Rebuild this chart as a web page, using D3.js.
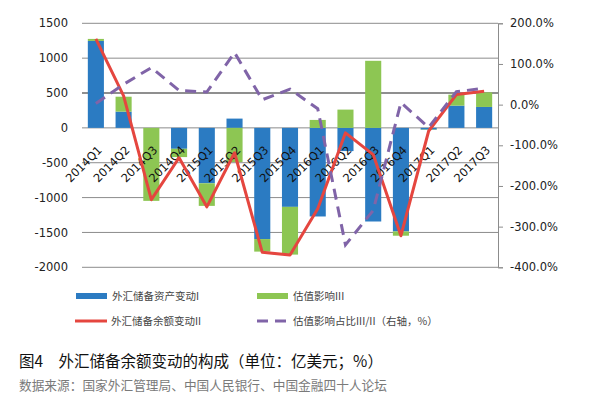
<!DOCTYPE html>
<html>
<head>
<meta charset="utf-8">
<script src="https://cdn.jsdelivr.net/npm/d3@7"></script>
<style>
  body { margin: 0; background: #fff; }
  svg { display: block; }
</style>
</head>
<body>
<script>
const W = 616, H = 397;

// Data (亿美元 / %)
const quarters = ["2014Q1","2014Q2","2014Q3","2014Q4","2015Q1","2015Q2","2015Q3","2015Q4",
                  "2016Q1","2016Q2","2016Q3","2016Q4","2017Q1","2017Q2","2017Q3"];
const assetChange   = [1247, 233, 0, -300, -795, 133, -1595, -1133, -1271, -333, -1343, -1485, -25, 319, 300];   // I
const valuation     = [29, 214, -1047, -119, -324, -490, -180, -685, 114, 262, 962, -62, -5, 157, 209];           // III
const balanceChange = [1276, 460, -1030, -428, -1133, -357, -1785, -1825, -1160, -71, -383, -1547, -45, 478, 525]; // II
const valuationShare = [3, 50, 91, 35, 31, 128, 12, 38, -10, -345, -260, 5, -56, 32, 40];                          // III/II, %

const leftTicks = [-2000, -1500, -1000, -500, 0, 500, 1000, 1500];
const rightTicks = [-400, -300, -200, -100, 0, 100, 200];

const legendItems = [
  { label: "外汇储备资产变动I", color: "#2B7BC2", type: "rect" },
  { label: "估值影响III", color: "#8DC653", type: "rect" },
  { label: "外汇储备余额变动II", color: "#E5463F", type: "line" },
  { label: "估值影响占比III/II（右轴，%）", color: "#8064A8", type: "dash" }
];

const svg = d3.select("body").append("svg").attr("width", W).attr("height", H);

const plotL = 82, plotR = 498, plotT = 23.3, plotB = 267.3;

const x = d3.scaleBand().domain(quarters).range([plotL, plotR]).paddingInner(0.42).paddingOuter(0.21);
const y = d3.scaleLinear().domain([-2000, 1500]).range([plotB, plotT]);
const y2 = d3.scaleLinear().domain([-400, 200]).range([plotB, plotT]);

// Gridlines
svg.append("g").selectAll("line").data(leftTicks).enter().append("line")
  .attr("x1", plotL).attr("x2", plotR)
  .attr("y1", d => y(d)).attr("y2", d => y(d))
  .attr("stroke", d => d === 500 ? "#6a6a6a" : "#8c8c8c")
  .attr("stroke-width", d => d === 500 ? 1.6 : 1);

// Left axis labels
const leftAxis = d3.axisLeft(y).tickValues(leftTicks).tickSize(0).tickPadding(14).tickFormat(d => String(d));
const gl = svg.append("g").attr("transform", `translate(${plotL},0)`).call(leftAxis);
gl.select(".domain").remove();
gl.selectAll("text").attr("font-family", "DejaVu Sans").attr("font-size", 11.5).attr("fill", "#222");

// Right axis
const rightAxis = d3.axisRight(y2).tickValues(rightTicks).tickSize(5).tickPadding(7)
  .tickFormat(d => d.toFixed(1) + "%");
const gr = svg.append("g").attr("transform", `translate(${plotR},0)`).call(rightAxis);
gr.select(".domain").attr("stroke", "#8c8c8c");
gr.selectAll(".tick line").attr("stroke", "#8c8c8c");
gr.selectAll("text").attr("font-family", "DejaVu Sans").attr("font-size", 11.5).attr("fill", "#222");

// Stacked bars (diverging)
const rows = quarters.map((q, i) => ({ q, a: assetChange[i], v: valuation[i] }));
const stacked = d3.stack().keys(["a", "v"]).offset(d3.stackOffsetDiverging)(rows);
const barColors = { a: legendItems[0].color, v: legendItems[1].color };

svg.append("g").selectAll("g").data(stacked).enter().append("g")
  .attr("fill", d => barColors[d.key])
  .selectAll("rect").data(d => d).enter().append("rect")
  .attr("x", d => x(d.data.q))
  .attr("width", x.bandwidth())
  .attr("y", d => y(Math.max(d[0], d[1])))
  .attr("height", d => Math.abs(y(d[0]) - y(d[1])));

// Category labels
svg.append("g").selectAll("text").data(quarters).enter().append("text")
  .attr("transform", d => `translate(${x(d) + x.bandwidth() / 2 + 4},${y(0) + 20}) rotate(-45)`)
  .attr("text-anchor", "end")
  .attr("dy", "0.35em")
  .attr("font-family", "DejaVu Sans").attr("font-size", 11.5).attr("fill", "#111")
  .text(d => d);

const cx = q => x(q) + x.bandwidth() / 2;

// Balance change line (left axis)
svg.append("path")
  .datum(balanceChange)
  .attr("fill", "none").attr("stroke", legendItems[2].color).attr("stroke-width", 3)
  .attr("stroke-linejoin", "round")
  .attr("d", d3.line().x((d, i) => cx(quarters[i])).y(d => y(d)));

// Valuation share line (right axis)
svg.append("path")
  .datum(valuationShare)
  .attr("fill", "none").attr("stroke", legendItems[3].color).attr("stroke-width", 3)
  .attr("stroke-dasharray", "11,7")
  .attr("d", d3.line().x((d, i) => cx(quarters[i])).y(d => y2(d)));

// Legend
const legPos = [[76, 296], [257, 296], [75, 321], [257, 321]];
const leg = svg.append("g");
legendItems.forEach((it, i) => {
  const [lx, ly] = legPos[i];
  if (it.type === "rect") {
    leg.append("rect").attr("x", lx).attr("y", ly - 3).attr("width", 31).attr("height", 6).attr("fill", it.color);
  } else {
    leg.append("line").attr("x1", lx).attr("x2", lx + 32).attr("y1", ly).attr("y2", ly)
      .attr("stroke", it.color).attr("stroke-width", 3)
      .attr("stroke-dasharray", it.type === "dash" ? "11,7" : null);
  }
  leg.append("text").attr("x", lx + 36).attr("y", ly).attr("dy", "0.36em")
    .attr("font-family", "Noto Sans CJK SC").attr("font-size", 10.5).attr("fill", "#444")
    .text(it.label);
});

// Caption and source
svg.append("text").attr("x", 19).attr("y", 367)
  .attr("font-family", "Noto Sans CJK SC").attr("font-size", 15.5).attr("fill", "#111")
  .text("图4　外汇储备余额变动的构成（单位：亿美元；%）");
svg.append("text").attr("x", 19).attr("y", 390)
  .attr("font-family", "Noto Sans CJK SC").attr("font-size", 12.7).attr("fill", "#7a7a7a")
  .text("数据来源：国家外汇管理局、中国人民银行、中国金融四十人论坛");
</script>
</body>
</html>
